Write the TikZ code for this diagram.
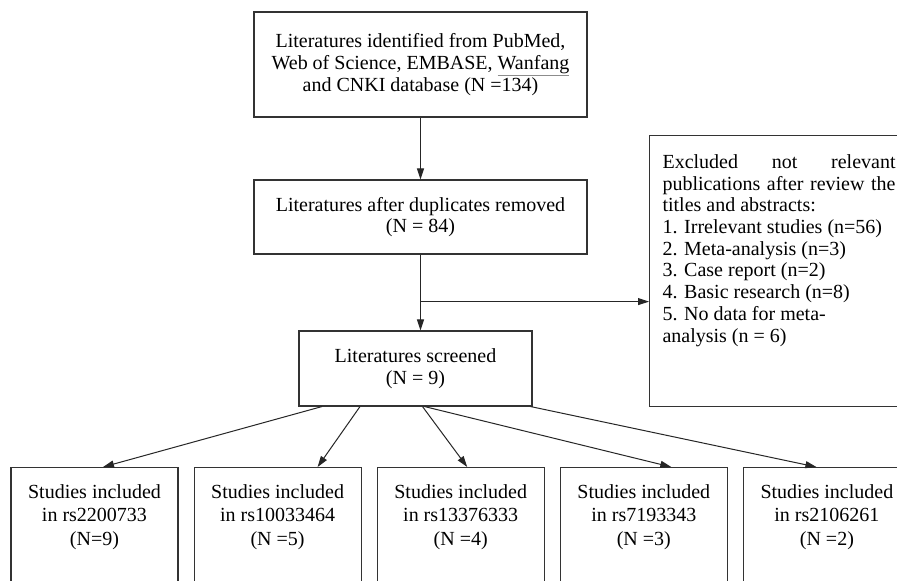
\documentclass[tikz,border=0pt]{standalone}
\usepackage{fontspec}
\setmainfont{Liberation Serif}
\usetikzlibrary{positioning, arrows.meta, calc}
\newcommand{\spellmark}[1]{\textcolor{black!45}{\underline{\textcolor{black}{#1}}}}
\tikzset{
    box/.style={draw=black!80, line width=1.1pt, fill=white, align=center,
        font=\fontsize{20}{21.7}\selectfont},
    studybox/.style={box, minimum width=167pt, inner ysep=17pt, text depth=110pt,
        font=\fontsize{20}{23.5}\selectfont},
    flow/.style={draw=black!85, line width=1pt, -{Triangle[length=11pt, width=7pt]}},
}

\begin{document}
\begin{tikzpicture}[x=1pt, y=1pt]
    \clip (0,0) rectangle (897,581);
    \fill[white] (0,0) rectangle (897,581);

    \node[box, minimum width=333pt, minimum height=105pt] (lit) at (420.5,516.5)
        {Literatures identified from PubMed,\\Web of Science, EMBASE, \spellmark{Wanfang}\\and CNKI database (N =134)};
    \node[box, minimum width=333pt, minimum height=74pt] (dup) at (420.5,364)
        {Literatures after duplicates removed\\(N = 84)};
    \node[box, minimum width=233pt, minimum height=75pt] (scr) at (415.5,212.5)
        {Literatures screened\\(N = 9)};

    \node[box, anchor=north west, inner xsep=13pt, inner ysep=19pt] (excl) at (649,446)
        {\parbox[t][233pt][t]{233pt}{%
        \makebox[233pt][s]{Excluded not relevant}\\
        \makebox[233pt][s]{publications after review the}\\
        titles and abstracts:\\
        1. Irrelevant studies (n=56)\\
        2. Meta-analysis (n=3)\\
        3. Case report (n=2)\\
        4. Basic research (n=8)\\
        5. No data for meta-\\
        analysis (n = 6)}};

    % included studies per SNP
    \node[studybox, anchor=north] (st1) at (94.5,114) {Studies included\\in rs2200733\\(N=9)};
    \node[studybox, right=15pt of st1] (st2) {Studies included\\in rs10033464\\(N =5)};
    \node[studybox, right=15pt of st2] (st3) {Studies included\\in rs13376333\\(N =4)};
    \node[studybox, right=15pt of st3] (st4) {Studies included\\in rs7193343\\(N =3)};
    \node[studybox, right=15pt of st4] (st5) {Studies included\\in rs2106261\\(N =2)};

    \draw[flow] (lit.south) -- (dup.north);
    \draw[flow] (dup.south) -- (dup.south |- scr.north);
    \coordinate (br) at ($(dup.south)!0.62!(dup.south |- scr.north)$);
    \draw[flow] (br) -- (br -| excl.west);

    \draw[flow] ([xshift=-93.5pt]scr.south) -- ([xshift=8.5pt]st1.north);
    \draw[flow] ([xshift=-55.5pt]scr.south) -- ([xshift=40pt]st2.north);
    \draw[flow] ([xshift=7pt]scr.south) -- ([xshift=6.5pt]st3.north);
    \draw[flow] ([xshift=9pt]scr.south) -- ([xshift=27.5pt]st4.north);
    \draw[flow] ([xshift=-2pt]scr.south east) -- ([xshift=-10.5pt]st5.north);
\end{tikzpicture}
\end{document}
